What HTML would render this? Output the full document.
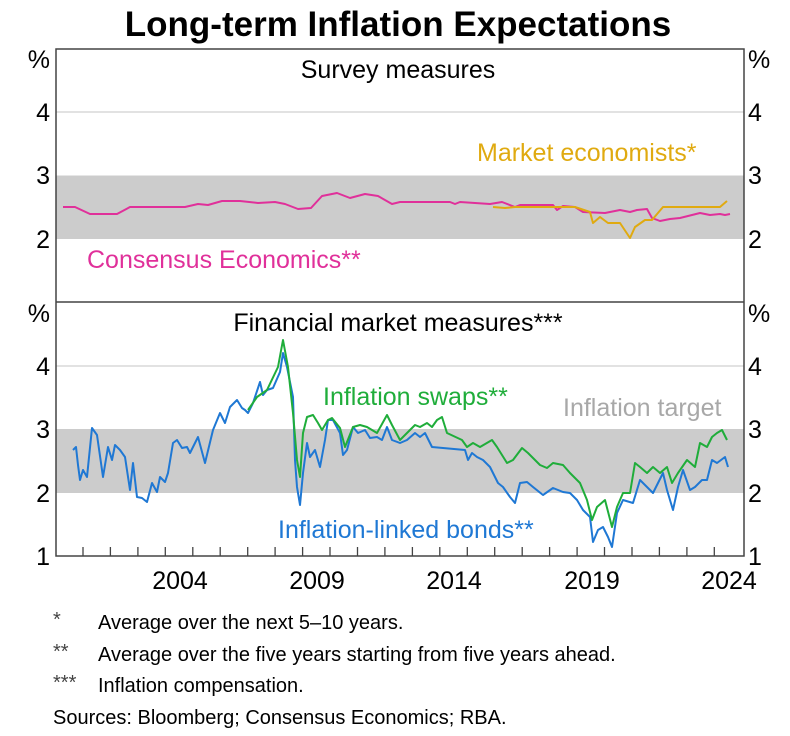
<!DOCTYPE html>
<html><head><meta charset="utf-8"><style>
html,body{margin:0;padding:0;background:#fff;}
svg{display:block;font-family:"Liberation Sans",Arial,sans-serif;}
</style></head><body>
<svg width="790" height="736" viewBox="0 0 790 736" xmlns="http://www.w3.org/2000/svg">
<text x="398" y="36" text-anchor="middle" font-size="35" font-weight="bold" fill="#000">Long-term Inflation Expectations</text>
<rect x="56" y="175.5" width="688" height="63.5" fill="#cccccc"/>
<rect x="56" y="429" width="688" height="64" fill="#cccccc"/>
<line x1="56" y1="112" x2="744" y2="112" stroke="#d0d0d0" stroke-width="1.2"/>
<line x1="56" y1="366" x2="744" y2="366" stroke="#d0d0d0" stroke-width="1.2"/>
<g stroke="#444" stroke-width="1.3">
<line x1="83" y1="556" x2="83" y2="547"/><line x1="110.4" y1="556" x2="110.4" y2="547"/><line x1="137.9" y1="556" x2="137.9" y2="547"/><line x1="165.3" y1="556" x2="165.3" y2="547"/><line x1="192.8" y1="556" x2="192.8" y2="547"/><line x1="220.2" y1="556" x2="220.2" y2="547"/><line x1="247.7" y1="556" x2="247.7" y2="547"/><line x1="275.1" y1="556" x2="275.1" y2="547"/><line x1="302.6" y1="556" x2="302.6" y2="547"/><line x1="330" y1="556" x2="330" y2="547"/><line x1="357.5" y1="556" x2="357.5" y2="547"/><line x1="384.9" y1="556" x2="384.9" y2="547"/><line x1="412.4" y1="556" x2="412.4" y2="547"/><line x1="439.8" y1="556" x2="439.8" y2="547"/><line x1="467.3" y1="556" x2="467.3" y2="547"/><line x1="494.7" y1="556" x2="494.7" y2="547"/><line x1="522.2" y1="556" x2="522.2" y2="547"/><line x1="549.6" y1="556" x2="549.6" y2="547"/><line x1="577.1" y1="556" x2="577.1" y2="547"/><line x1="604.5" y1="556" x2="604.5" y2="547"/><line x1="632" y1="556" x2="632" y2="547"/><line x1="659.4" y1="556" x2="659.4" y2="547"/><line x1="686.9" y1="556" x2="686.9" y2="547"/><line x1="714.3" y1="556" x2="714.3" y2="547"/>
</g>
<polyline fill="none" stroke="#e0309a" stroke-width="2" stroke-linejoin="round" points="63,207 75,207 90,214 117,214 130,207 185,207 198,204 208,205 222,201 240,201 258,203 275,202 285,204 298,209 311,208 322,196 337,193 350,198 365,194 378,196 392,204 400,202 450,202 455,204 460,202 490,204 502,202 515,207 520,205 553,205 557,210 563,206 575,207 583,212 605,213 620,210 630,212 637,210 647,209 652,218 660,221 670,219 680,218 700,213 710,215 720,214 725,215 730,214"/>
<polyline fill="none" stroke="#e0aa10" stroke-width="2" stroke-linejoin="round" points="493,207 505,208 515,207 540,207 555,207 575,207 590,212 593,223 600,217 608,223 620,223 630,238 635,227 645,220 652,220 663,207 720,207 727,201"/>
<polyline fill="none" stroke="#1f78d4" stroke-width="2" stroke-linejoin="round" points="73,450 76,447 78,465 80,480 83,470 87,477 92,428 97,435 103,477 108,447 112,460 115,445 120,450 125,457 130,490 133,463 137,497 142,498 147,502 152,483 157,492 160,477 165,482 168,473 173,443 177,440 182,448 187,447 190,453 198,437 205,463 213,430 220,413 225,423 230,407 237,400 242,408 245,410 248,413 253,403 260,382 263,395 267,390 273,388 280,372 283,353 287,367 293,397 295,460 297,487 300,505 303,473 307,443 310,457 315,450 320,467 325,440 328,420 333,420 340,433 343,455 347,450 353,427 358,433 365,430 370,438 377,437 382,440 387,427 392,440 400,443 407,440 415,433 420,437 425,433 432,447 465,450 468,460 472,453 477,457 483,460 490,467 498,483 503,487 510,497 515,503 520,483 527,482 533,487 543,495 553,488 563,492 570,493 577,500 583,510 590,517 593,542 598,530 603,527 608,537 612,547 617,513 623,500 633,503 640,480 647,487 653,493 663,473 667,490 673,510 678,487 683,470 690,490 695,487 702,480 707,480 712,460 717,463 725,457 728,467"/>
<polyline fill="none" stroke="#1fad3a" stroke-width="2" stroke-linejoin="round" points="248,410 257,397 267,390 278,367 283,340 288,367 293,413 297,460 300,477 303,433 307,417 313,415 318,423 322,430 328,420 332,418 340,428 345,447 353,427 360,425 367,427 377,433 387,415 392,425 400,440 407,433 415,425 420,427 427,423 432,427 437,420 442,417 447,433 462,440 467,447 473,443 480,447 492,440 497,447 507,463 513,460 522,448 528,453 540,465 547,468 553,463 563,465 570,473 580,483 587,500 592,520 597,507 605,500 612,527 617,507 623,493 630,493 635,463 640,467 647,473 653,467 660,473 667,467 672,483 678,473 687,460 695,467 700,443 707,447 712,437 717,433 722,430 727,440"/>
<rect x="56" y="49" width="688" height="507" fill="none" stroke="#444" stroke-width="1.5"/>
<line x1="56" y1="302" x2="744" y2="302" stroke="#444" stroke-width="1.5"/>
<g font-size="25" fill="#000">
<text x="398" y="78" text-anchor="middle">Survey measures</text>
<text x="398" y="331" text-anchor="middle">Financial market measures***</text>
<g text-anchor="end">
<text x="50" y="68">%</text><text x="50" y="121">4</text><text x="50" y="184">3</text><text x="50" y="248">2</text>
<text x="50" y="322">%</text><text x="50" y="375">4</text><text x="50" y="438">3</text><text x="50" y="502">2</text><text x="50" y="565">1</text>
</g>
<text x="748" y="68">%</text><text x="748" y="121">4</text><text x="748" y="184">3</text><text x="748" y="248">2</text>
<text x="748" y="322">%</text><text x="748" y="375">4</text><text x="748" y="438">3</text><text x="748" y="502">2</text><text x="748" y="565">1</text>
<g text-anchor="middle">
<text x="180" y="589">2004</text><text x="317" y="589">2009</text><text x="454" y="589">2014</text><text x="592" y="589">2019</text><text x="729" y="589">2024</text>
</g>
<text x="87" y="268" fill="#e0309a">Consensus Economics**</text>
<text x="477" y="161" fill="#e0aa10">Market economists*</text>
<text x="323" y="405" fill="#1fad3a">Inflation swaps**</text>
<text x="563" y="416" fill="#a8a8a8">Inflation target</text>
<text x="278" y="538" fill="#1f78d4">Inflation-linked bonds**</text>
</g>
<g font-size="20" fill="#000">
<text x="53" y="626" fill="#444">*</text><text x="98" y="629">Average over the next 5–10 years.</text>
<text x="53" y="658" fill="#444">**</text><text x="98" y="661">Average over the five years starting from five years ahead.</text>
<text x="53" y="689" fill="#444">***</text><text x="98" y="692">Inflation compensation.</text>
<text x="53" y="724">Sources: Bloomberg; Consensus Economics; RBA.</text>
</g>
</svg>
</body></html>
